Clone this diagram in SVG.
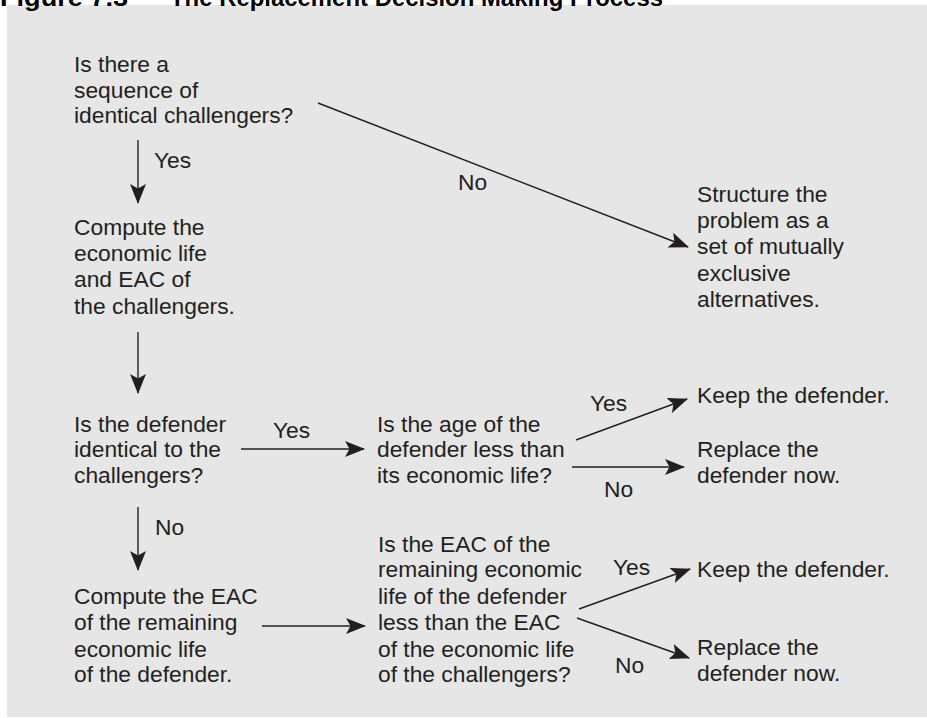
<svg xmlns="http://www.w3.org/2000/svg" width="927" height="718" viewBox="0 0 927 718">
  <style>
    .t { font-family: "Liberation Sans", Arial, sans-serif; font-size: 22.8px; fill: #231f20; }
    .title { font-family: "Liberation Sans", Arial, sans-serif; font-size: 24px; font-weight: bold; fill: #000; }
    .c { stroke: #231f20; stroke-width: 1.4; fill: none; marker-end: url(#ah); }
  </style>
  <defs>
    <marker id="ah" viewBox="0 0 20 16" refX="19" refY="8" markerWidth="20" markerHeight="16" markerUnits="userSpaceOnUse" orient="auto">
      <path d="M0,0 L20,8 L0,16 L4.5,8 Z" fill="#231f20"/>
    </marker>
  </defs>
  <rect x="7" y="5" width="920" height="712" fill="#e6e6e6"/>
  <g id="title">
    <text class="title" x="0" y="6" textLength="128" lengthAdjust="spacingAndGlyphs">Figure 7.3</text>
    <text class="title" x="170" y="6" textLength="493" lengthAdjust="spacingAndGlyphs">The Replacement Decision Making Process</text>
  </g>
  <g id="n-sequence">
    <text class="t" x="74" y="72">Is there a</text>
    <text class="t" x="74" y="97.5">sequence of</text>
    <text class="t" x="74" y="123">identical challengers?</text>
  </g>
  <g id="n-compute-challengers">
    <text class="t" x="74" y="235">Compute the</text>
    <text class="t" x="74" y="261">economic life</text>
    <text class="t" x="74" y="287">and EAC of</text>
    <text class="t" x="74" y="314">the challengers.</text>
  </g>
  <g id="n-structure">
    <text class="t" x="697" y="202">Structure the</text>
    <text class="t" x="697" y="228">problem as a</text>
    <text class="t" x="697" y="254">set of mutually</text>
    <text class="t" x="697" y="281">exclusive</text>
    <text class="t" x="697" y="307">alternatives.</text>
  </g>
  <g id="n-identical">
    <text class="t" x="74" y="432">Is the defender</text>
    <text class="t" x="74" y="457">identical to the</text>
    <text class="t" x="74" y="483">challengers?</text>
  </g>
  <g id="n-age">
    <text class="t" x="377" y="432">Is the age of the</text>
    <text class="t" x="377" y="457">defender less than</text>
    <text class="t" x="377" y="483">its economic life?</text>
  </g>
  <g id="n-keep1">
    <text class="t" x="697" y="403">Keep the defender.</text>
  </g>
  <g id="n-replace1">
    <text class="t" x="697" y="457">Replace the</text>
    <text class="t" x="697" y="483">defender now.</text>
  </g>
  <g id="n-compute-defender">
    <text class="t" x="74" y="603.5">Compute the EAC</text>
    <text class="t" x="74" y="630">of the remaining</text>
    <text class="t" x="74" y="656.5">economic life</text>
    <text class="t" x="74" y="682">of the defender.</text>
  </g>
  <g id="n-eac">
    <text class="t" x="378" y="551.5">Is the EAC of the</text>
    <text class="t" x="378" y="577">remaining economic</text>
    <text class="t" x="378" y="603.5">life of the defender</text>
    <text class="t" x="378" y="630">less than the EAC</text>
    <text class="t" x="378" y="656.5">of the economic life</text>
    <text class="t" x="378" y="682">of the challengers?</text>
  </g>
  <g id="n-keep2">
    <text class="t" x="697" y="577">Keep the defender.</text>
  </g>
  <g id="n-replace2">
    <text class="t" x="697" y="655">Replace the</text>
    <text class="t" x="697" y="681">defender now.</text>
  </g>
  <g id="connectors">
    <line class="c" x1="138" y1="140" x2="138" y2="203"/>
    <line class="c" x1="318" y1="103" x2="688" y2="247"/>
    <line class="c" x1="138" y1="332" x2="138" y2="393"/>
    <line class="c" x1="241" y1="449" x2="364" y2="449"/>
    <line class="c" x1="576" y1="440" x2="687" y2="399"/>
    <line class="c" x1="572" y1="467" x2="684" y2="467"/>
    <line class="c" x1="138" y1="507" x2="138" y2="570"/>
    <line class="c" x1="262" y1="626" x2="365" y2="626"/>
    <line class="c" x1="579" y1="609" x2="690" y2="569"/>
    <line class="c" x1="577" y1="618" x2="689" y2="658"/>
    <text class="t" x="154" y="168">Yes</text>
    <text class="t" x="458" y="190">No</text>
    <text class="t" x="273" y="438">Yes</text>
    <text class="t" x="590" y="411">Yes</text>
    <text class="t" x="604" y="497">No</text>
    <text class="t" x="155" y="535">No</text>
    <text class="t" x="613" y="575">Yes</text>
    <text class="t" x="615" y="673">No</text>
  </g>
</svg>
